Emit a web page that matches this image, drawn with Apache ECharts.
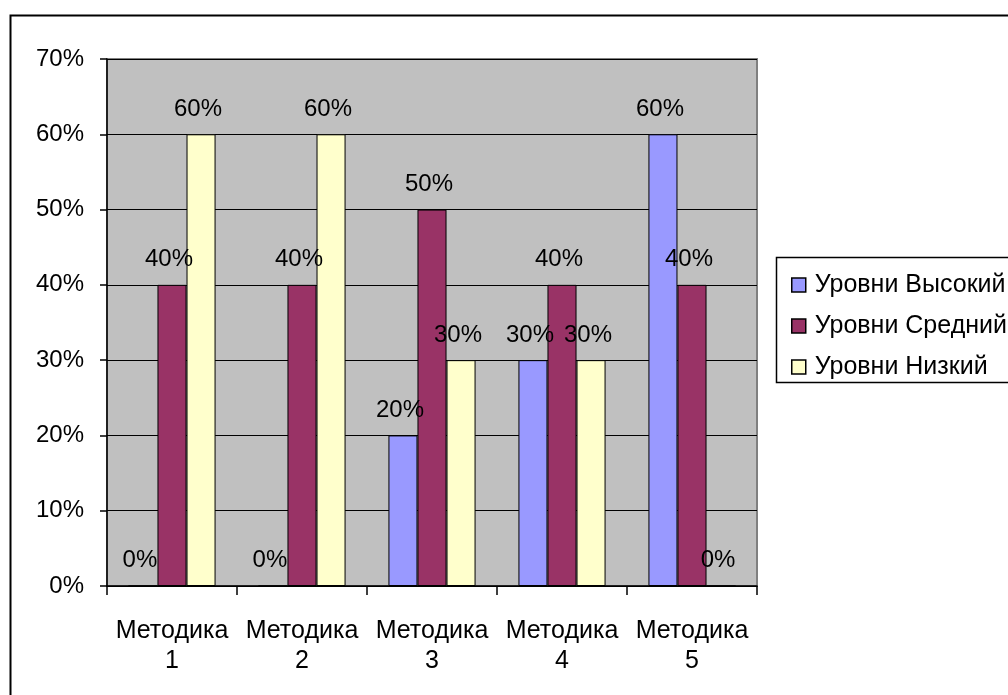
<!DOCTYPE html>
<html>
<head>
<meta charset="utf-8">
<script src="https://cdn.jsdelivr.net/npm/echarts@6/dist/echarts.min.js"></script>
<style>
  html, body { margin: 0; padding: 0; background: #fff; }
  #chart { width: 1008px; height: 695px; }
</style>
</head>
<body>
<div id="chart"></div>
<script>
// Methods on the category axis
const categories = ['Методика\n1', 'Методика\n2', 'Методика\n3', 'Методика\n4', 'Методика\n5'];
// Share of each level per method, in percent
const levelHigh = [0, 0, 20, 30, 60];
const levelMid = [40, 40, 50, 40, 40];
const levelLow = [60, 60, 30, 30, 0];
const seriesNames = ['Уровни Высокий', 'Уровни Средний', 'Уровни Низкий'];
const yTicks = { min: 0, max: 70, interval: 10 };

const FONT = '"Liberation Sans", Arial, sans-serif';
const colors = ['#9999FF', '#993366', '#FFFFCC'];

const labelCfg = {
  show: true,
  position: 'top',
  distance: 13,
  offset: [-3, 0],
  formatter: '{c}%',
  color: '#000',
  fontFamily: FONT,
  fontSize: 24
};

function barSeries(name, data, color) {
  return {
    name: name,
    type: 'bar',
    data: data,
    barGap: '0%',
    barCategoryGap: '33%',
    itemStyle: { color: color, borderColor: '#000', borderWidth: 1 },
    label: labelCfg,
    emphasis: { disabled: true }
  };
}

const chart = echarts.init(document.getElementById('chart'), null, { renderer: 'canvas' });
chart.setOption({
  animation: false,
  backgroundColor: '#ffffff',
  textStyle: { fontFamily: FONT },
  grid: {
    left: 107, top: 59, right: 251, bottom: 109,
    show: true,
    backgroundColor: '#C0C0C0',
    borderColor: '#808080',
    borderWidth: 2
  },
  legend: {
    orient: 'vertical',
    left: 786,
    top: 267,
    itemWidth: 14,
    itemHeight: 14,
    itemGap: 15,
    icon: 'rect',
    data: seriesNames,
    itemStyle: { borderColor: '#000', borderWidth: 1.5 },
    textStyle: { fontFamily: FONT, fontSize: 25, lineHeight: 26, color: '#000', padding: [0, 0, 0, 4] }
  },
  xAxis: {
    type: 'category',
    data: categories,
    axisLine: { lineStyle: { color: '#000', width: 1.5 } },
    axisTick: { show: true, interval: 0, length: 9, lineStyle: { color: '#000', width: 1.5 } },
    axisLabel: { interval: 0, hideOverlap: false, color: '#000', fontFamily: FONT, fontSize: 25, lineHeight: 30, margin: 30 },
    splitLine: { show: false }
  },
  yAxis: {
    type: 'value',
    min: yTicks.min,
    max: yTicks.max,
    interval: yTicks.interval,
    axisLine: { show: true, lineStyle: { color: '#000', width: 1.5 } },
    axisTick: { show: true, length: 7, lineStyle: { color: '#000', width: 1.5 } },
    axisLabel: { color: '#000', fontFamily: FONT, fontSize: 24, margin: 23, formatter: '{value}%' },
    splitLine: { show: true, lineStyle: { color: '#000', width: 1 } }
  },
  series: [
    barSeries(seriesNames[0], levelHigh, colors[0]),
    barSeries(seriesNames[1], levelMid, colors[1]),
    barSeries(seriesNames[2], levelLow, colors[2])
  ],
  graphic: [
    {
      type: 'rect',
      shape: { x: 10.5, y: 15.5, width: 1200, height: 900 },
      style: { fill: 'none', stroke: '#000', lineWidth: 2 },
      silent: true, z: 100
    },
    {
      type: 'rect',
      shape: { x: 776.5, y: 257.5, width: 400, height: 125 },
      style: { fill: 'none', stroke: '#000', lineWidth: 1.5 },
      silent: true, z: 100
    }
  ]
});
</script>
</body>
</html>
